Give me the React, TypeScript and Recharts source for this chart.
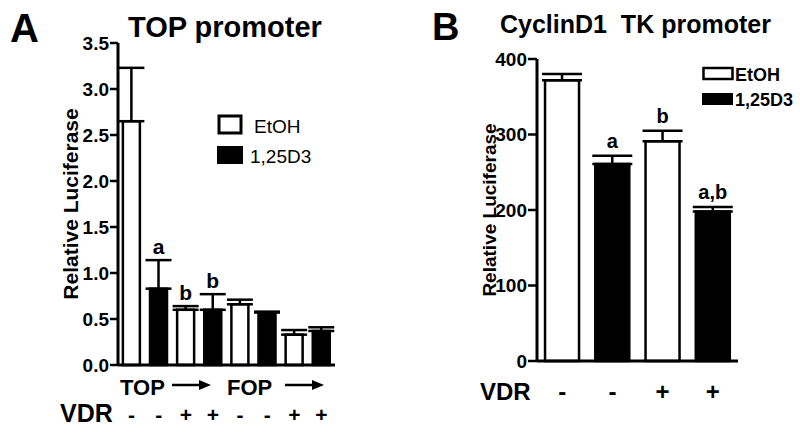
import React from "react";
import { BarChart, Bar, XAxis, YAxis, ErrorBar, Cell, LabelList, Label, Legend } from "recharts";

const FONT = '"Liberation Sans", Arial, Helvetica, sans-serif';

// Panel A - TOP promoter
const topTreatment = ["EtOH", "1,25D3", "EtOH", "1,25D3", "EtOH", "1,25D3", "EtOH", "1,25D3"];
const topVdr = ["-", "-", "+", "+", "-", "-", "+", "+"];
const topValues = [2.65, 0.83, 0.6, 0.6, 0.66, 0.57, 0.33, 0.37];
const topErrors = [0.58, 0.31, 0.04, 0.17, 0.05, 0.01, 0.05, 0.04];
const topSig = ["", "a", "b", "b", "", "", "", ""];
const topTicks = [0, 0.5, 1, 1.5, 2, 2.5, 3, 3.5];

// Panel B - CyclinD1 TK promoter
const tkTreatment = ["EtOH", "1,25D3", "EtOH", "1,25D3"];
const tkVdr = ["-", "-", "+", "+"];
const tkValues = [372, 261, 291, 198];
const tkErrors = [8, 11, 14, 6];
const tkSig = ["", "a", "b", "a,b"];
const tkTicks = [0, 100, 200, 300, 400];

type Row = { id: string; treatment: string; vdr: string; value: number; err: number; sig: string };

const makeRows = (treat: string[], vdr: string[], vals: number[], errs: number[], sig: string[]): Row[] =>
  vals.map((v, i) => ({ id: String(i), treatment: treat[i], vdr: vdr[i], value: v, err: errs[i], sig: sig[i] }));

const topData = makeRows(topTreatment, topVdr, topValues, topErrors, topSig);
const tkData = makeRows(tkTreatment, tkVdr, tkValues, tkErrors, tkSig);

const fillFor = (t: string) => (t === "EtOH" ? "#fff" : "#000");

// significance letter sits just above the error bar cap
const sigLabel = (rows: Row[], fontSize: number, gap: number) => (props: any) => {
  const r = rows[props.index];
  if (!r || !r.sig) return null;
  const x = Number(props.x);
  const y = Number(props.y);
  const w = Number(props.width);
  const h = Number(props.height);
  const errTop = y - r.err * (h / r.value);
  return (
    <text x={x + w / 2} y={errTop - gap} textAnchor="middle" fontFamily={FONT} fontWeight="bold" fontSize={fontSize} fill="#000">
      {r.sig}
    </text>
  );
};

const vdrTick = (rows: Row[], dy: number, fontSize: number) => (props: any) => {
  const r = rows[props.index];
  return (
    <text x={props.x} y={Number(props.y) + dy} textAnchor="middle" fontFamily={FONT} fontWeight="bold" fontSize={fontSize} fill="#000">
      {r ? r.vdr : ""}
    </text>
  );
};

const LegendA = () => (
  <svg width={120} height={60} style={{ display: "block" }}>
    <rect x={3} y={3} width={22} height={17} fill="#fff" stroke="#000" strokeWidth={3} />
    <text x={38} y={20} fontFamily={FONT} fontSize={19} fill="#000">EtOH</text>
    <rect x={1} y={33} width={26} height={18} fill="#000" />
    <text x={34} y={50} fontFamily={FONT} fontSize={19} fill="#000">1,25D3</text>
  </svg>
);

const LegendB = () => (
  <svg width={100} height={44} style={{ display: "block" }}>
    <rect x={1.5} y={3} width={29} height={11} fill="#fff" stroke="#000" strokeWidth={2.5} />
    <text x={33} y={16} fontFamily={FONT} fontWeight="bold" fontSize={18} fill="#000">EtOH</text>
    <rect x={0} y={28} width={31} height={12} fill="#000" />
    <text x={33} y={41} fontFamily={FONT} fontWeight="bold" fontSize={18} fill="#000">1,25D3</text>
  </svg>
);

const axisLine = { stroke: "#000", strokeWidth: 3 };
const tickLine = { stroke: "#000", strokeWidth: 2.5 };

export default function App() {
  return (
    <div style={{ position: "absolute", left: 0, top: 0, width: 800, height: 435, background: "#fff", fontFamily: FONT }}>
      <div style={{ position: "absolute", left: 0, top: 0 }}>
        <BarChart width={400} height={435} data={topData} margin={{ top: 43, right: 65, bottom: 40, left: 0 }} barCategoryGap="18%">
          <XAxis dataKey="id" axisLine={axisLine} tickLine={false} tickSize={0} tickMargin={0} height={30} interval={0} tick={vdrTick(topData, 57, 21)} />
          <YAxis
            domain={[0, 3.5]}
            ticks={topTicks}
            tickFormatter={(v: number) => v.toFixed(1)}
            width={118}
            axisLine={axisLine}
            tickLine={tickLine}
            tickSize={8}
            tickMargin={1}
            tick={{ fill: "#000", fontSize: 19, fontWeight: "bold", fontFamily: FONT }}
          >
            <Label value="Relative Luciferase" angle={-90} position="center" dx={12} style={{ fontSize: 21, fontWeight: "bold", fontFamily: FONT, fill: "#000" }} />
          </YAxis>
          <Legend layout="vertical" align="center" verticalAlign="middle" content={LegendA} wrapperStyle={{ left: 216, top: 113, width: 120 }} />
          <Bar dataKey="value" stroke="#000" strokeWidth={2.5} isAnimationActive={false} legendType="none">
            {topData.map((r) => (
              <Cell key={r.id} fill={fillFor(r.treatment)} />
            ))}
            <ErrorBar dataKey={(d: Row) => [0, d.err]} width={13} stroke="#000" strokeWidth={2.5} direction="y" />
            <LabelList dataKey="sig" content={sigLabel(topData, 21, 6)} />
          </Bar>
        </BarChart>
      </div>

      <div style={{ position: "absolute", left: 400, top: 0 }}>
        <BarChart width={400} height={435} data={tkData} margin={{ top: 59, right: 62, bottom: 44, left: 0 }} barCategoryGap="16%">
          <XAxis dataKey="id" axisLine={axisLine} tickLine={false} tickSize={0} tickMargin={0} height={30} interval={0} tick={vdrTick(tkData, 39, 24)} />
          <YAxis
            domain={[0, 400]}
            ticks={tkTicks}
            width={137}
            axisLine={axisLine}
            tickLine={tickLine}
            tickSize={9}
            tickMargin={1}
            tick={{ fill: "#000", fontSize: 19, fontWeight: "bold", fontFamily: FONT }}
          >
            <Label value="Relative Luciferase" angle={-90} position="center" dx={21} style={{ fontSize: 19, fontWeight: "bold", fontFamily: FONT, fill: "#000" }} />
          </YAxis>
          <Legend layout="vertical" align="center" verticalAlign="middle" content={LegendB} wrapperStyle={{ left: 302, top: 65, width: 100 }} />
          <Bar dataKey="value" stroke="#000" strokeWidth={2.5} isAnimationActive={false} legendType="none">
            {tkData.map((r) => (
              <Cell key={r.id} fill={fillFor(r.treatment)} />
            ))}
            <ErrorBar dataKey={(d: Row) => [0, d.err]} width={20} stroke="#000" strokeWidth={2.5} direction="y" />
            <LabelList dataKey="sig" content={sigLabel(tkData, 20, 8)} />
          </Bar>
        </BarChart>
      </div>

      <svg width={800} height={435} style={{ position: "absolute", left: 0, top: 0, pointerEvents: "none" }}>
        <g fontFamily={FONT} fill="#000" fontWeight="bold">
          <text x={10} y={42} fontSize={40}>A</text>
          <text x={128} y={37} fontSize={29}>TOP promoter</text>
          <text x={432} y={40} fontSize={38}>B</text>
          <text x={500} y={33} fontSize={25} style={{ whiteSpace: "pre" }}>CyclinD1  TK promoter</text>
          <text x={120} y={395} fontSize={22}>TOP</text>
          <text x={227} y={395} fontSize={22}>FOP</text>
          <text x={60} y={422} fontSize={25}>VDR</text>
          <text x={480} y={400} fontSize={24}>VDR</text>
        </g>
        <g stroke="#000" strokeWidth={2.5}>
          <line x1={172} y1={385} x2={202} y2={385} />
          <line x1={285} y1={385} x2={315} y2={385} />
        </g>
        <polygon points="199,380 211,385 199,390" fill="#000" />
        <polygon points="312,380 324,385 312,390" fill="#000" />
      </svg>
    </div>
  );
}
